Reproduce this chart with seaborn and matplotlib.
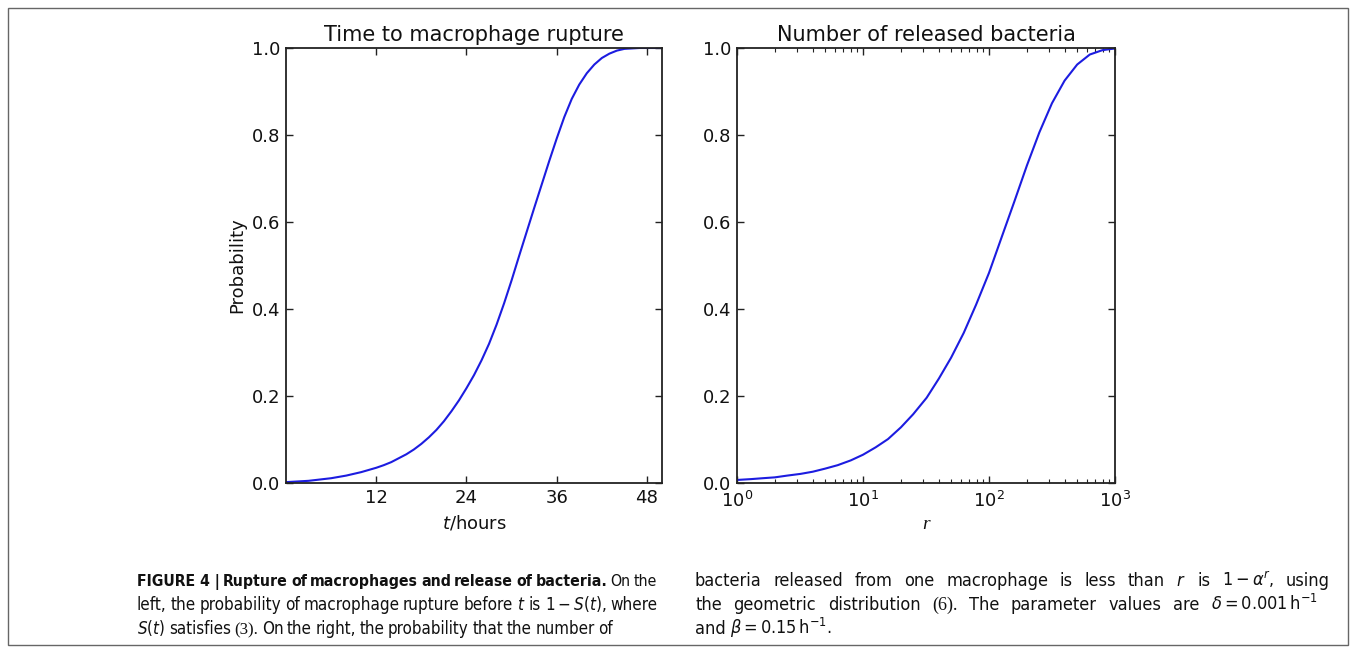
import matplotlib
matplotlib.use("Agg")
import numpy as np
import matplotlib.pyplot as plt
import seaborn as sns
from matplotlib import font_manager
from matplotlib.patches import Rectangle
from matplotlib.ticker import FixedLocator, FormatStrFormatter, LogLocator, NullFormatter

# ---------------- data ----------------
t_hours = list(range(0, 51))
p_rupture = [0.002, 0.003, 0.004, 0.005, 0.007, 0.009, 0.011, 0.014, 0.017,
             0.021, 0.025, 0.030, 0.035, 0.041, 0.048, 0.057, 0.066, 0.077,
             0.090, 0.105, 0.122, 0.142, 0.165, 0.190, 0.218, 0.248, 0.282,
             0.320, 0.364, 0.413, 0.466, 0.522, 0.577, 0.632, 0.686, 0.740,
             0.792, 0.841, 0.883, 0.916, 0.942, 0.962, 0.977, 0.987, 0.994,
             0.998, 0.999, 1.000, 1.000, 1.000, 1.000]

r_released = [1, 1.3, 1.6, 2, 2.5, 3.2, 4, 5, 6.3, 8, 10, 12.6, 15.8, 20, 25,
              32, 40, 50, 63, 79, 100, 126, 158, 200, 251, 316, 398, 501, 631,
              794, 1000]
p_released = [0.007, 0.009, 0.011, 0.013, 0.017, 0.021, 0.026, 0.033, 0.041,
              0.052, 0.065, 0.082, 0.101, 0.128, 0.158, 0.196, 0.240, 0.288,
              0.345, 0.410, 0.483, 0.565, 0.645, 0.730, 0.806, 0.873, 0.925,
              0.962, 0.985, 0.995, 0.999]

left_xticks = [12, 24, 36, 48]
y_ticks = [0.0, 0.2, 0.4, 0.6, 0.8, 1.0]

title_left = "Time to macrophage rupture"
title_right = "Number of released bacteria"

# ---------------- fonts ----------------
entries = font_manager.fontManager.ttflist
names = {f.name for f in entries}
has_dv_cond = any(f.name == "DejaVu Sans" and "condensed" in str(f.stretch).lower()
                  for f in entries)
if "Liberation Sans Narrow" in names:
    CAP, CAP_STRETCH = "Liberation Sans Narrow", "normal"
    plt.rcParams["mathtext.rm"] = CAP
    plt.rcParams["mathtext.it"] = CAP + ":italic"
    plt.rcParams["mathtext.bf"] = CAP + ":bold"
elif has_dv_cond:
    CAP, CAP_STRETCH = "DejaVu Sans", "condensed"
    plt.rcParams["mathtext.rm"] = "DejaVu Sans:stretch=condensed"
    plt.rcParams["mathtext.it"] = "DejaVu Sans:italic:stretch=condensed"
    plt.rcParams["mathtext.bf"] = "DejaVu Sans:bold:stretch=condensed"
else:
    CAP, CAP_STRETCH = "Liberation Sans", "normal"
    plt.rcParams["mathtext.rm"] = CAP
    plt.rcParams["mathtext.it"] = CAP + ":italic"
    plt.rcParams["mathtext.bf"] = CAP + ":bold"
plt.rcParams["font.family"] = ["DejaVu Sans"]

W, H = 1356, 652
fig = plt.figure(figsize=(W / 100, H / 100), dpi=100)
fig.patch.set_facecolor("white")


def box(x0, y0, x1, y1):
    return [x0 / W, 1 - y1 / H, (x1 - x0) / W, (y1 - y0) / H]


ax1 = fig.add_axes(box(286, 48, 662, 483))
ax2 = fig.add_axes(box(737, 48, 1115, 483))

LINE = "#1c1ce0"
sns.lineplot(x=t_hours, y=p_rupture, ax=ax1, color=LINE, linewidth=1.5)
sns.lineplot(x=r_released, y=p_released, ax=ax2, color=LINE, linewidth=1.5)

ax1.set_xlim(0, 50)
ax1.xaxis.set_major_locator(FixedLocator(left_xticks))
ax2.set_xscale("log")
ax2.set_xlim(1, 1000)
ax2.xaxis.set_major_locator(LogLocator(base=10, numticks=10))
ax2.xaxis.set_minor_locator(LogLocator(base=10, subs=np.arange(2, 10), numticks=20))
ax2.xaxis.set_minor_formatter(NullFormatter())

for ax in (ax1, ax2):
    ax.set_ylim(0, 1)
    ax.yaxis.set_major_locator(FixedLocator(y_ticks))
    ax.yaxis.set_major_formatter(FormatStrFormatter("%.1f"))
    ax.set_facecolor("white")
    for sp in ax.spines.values():
        sp.set_visible(True)
        sp.set_color("#222222")
        sp.set_linewidth(1.3)
    ax.tick_params(which="both", direction="in", top=True, right=True,
                   color="#222222", labelcolor="#111111")
    ax.tick_params(which="major", length=5, width=1, labelsize=13, pad=4)
    ax.tick_params(which="minor", length=3, width=0.8)
    ax.grid(False)
ax2.tick_params(axis="x", which="major", pad=6)

ax1.set_title(title_left, fontsize=15, pad=5, color="#111111")
ax2.set_title(title_right, fontsize=15, pad=5, color="#111111")
ax1.set_ylabel("Probability", fontsize=13, labelpad=4, color="#111111")
ax1.set_xlabel("$t$/hours", fontsize=13, labelpad=5, color="#111111")
ax2.set_xlabel("r", fontsize=14, labelpad=3, color="#111111",
               fontfamily="Liberation Serif", style="italic")
ax2.set_ylabel("")

# ---------------- frame ----------------
fig.add_artist(Rectangle((8 / W, 1 - 645 / H), (1348 - 8) / W, (645 - 8) / H,
                         transform=fig.transFigure, fill=False,
                         edgecolor="#666666", linewidth=1.0))

# ---------------- caption ----------------
renderer = fig.canvas.get_renderer()
MIN_GAP = 0.20  # in em


def make_texts(tokens, y, fs):
    arts = []
    for s, kw in tokens:
        props = dict(fontsize=fs, family=CAP, fontstretch=CAP_STRETCH,
                     va="baseline", ha="left", color="#111111",
                     math_fontfamily="custom")
        props.update(kw)
        arts.append(fig.text(0, 1 - y / H, s, **props))
    return arts


def place_line(tokens, x0, x1, y, fs, justify=True):
    arts = make_texts(tokens, y, fs)
    widths = [a.get_window_extent(renderer).width for a in arts]
    n = len(arts)
    need = sum(widths) + (n - 1) * fs * 100 / 72 * MIN_GAP
    if justify and need > (x1 - x0):
        # shrink this line only, so it fits
        f2 = fs * (x1 - x0) / need * 0.995
        for a in arts:
            a.remove()
        return place_line(tokens, x0, x1, y, f2, justify)
    if justify and n > 1:
        gap = (x1 - x0 - sum(widths)) / (n - 1)
    else:
        gap = fs * 100 / 72 * 0.25
    x = x0
    for a, w in zip(arts, widths):
        a.set_x(x / W)
        x += w + gap


def words(s, **kw):
    return [(w, kw) for w in s.split(" ")]


B = dict(fontweight="bold")
SERIF = dict(family="Liberation Serif", fontstretch="normal")

line1 = [("FIGURE 4 |", B)] + words("Rupture of macrophages and release of bacteria.", **B) + words("On the")
line2 = words(r"left, the probability of macrophage rupture before $t$ is $1-S(t)$, where")
line3 = [(r"$S(t)$", {}), ("satisfies", {}), ("(3).", SERIF)] + \
    words("On the right, the probability that the number of")
rline1 = words(r"bacteria released from one macrophage is less than $r$ is $1-\alpha^r$, using")
rline2 = words("the geometric distribution") + [("(6).", SERIF)] + \
    words(r"The parameter values are $\delta=0.001\,\mathrm{h}^{-1}$")
rline3 = words(r"and $\beta=0.15\,\mathrm{h}^{-1}$.")

FS = 13.0
place_line(line1, 137, 657, 586, FS)
place_line(line2, 137, 657, 610, FS)
place_line(line3, 137, 613, 634, FS)
place_line(rline1, 695, 1330, 586, FS)
place_line(rline2, 695, 1318, 610, FS)
place_line(rline3, 695, 1330, 634, FS, justify=False)

fig.savefig("out.png", dpi=100, facecolor="white")
